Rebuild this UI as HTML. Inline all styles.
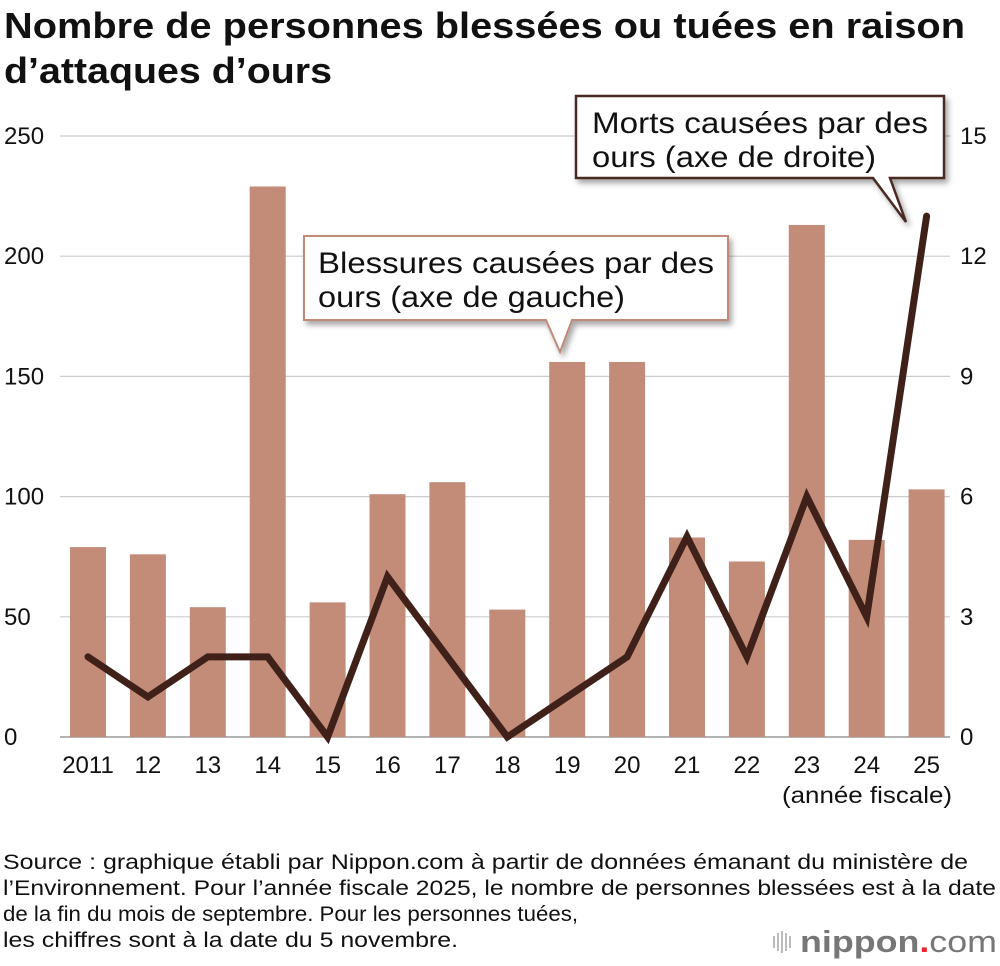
<!DOCTYPE html>
<html><head><meta charset="utf-8"><style>
body{margin:0;background:#fff;}
svg{display:block;font-family:"Liberation Sans",Arial,sans-serif;}
</style></head><body>
<svg width="1000" height="966" viewBox="0 0 1000 966">
<defs><filter id="sh" x="-10%" y="-10%" width="130%" height="140%"><feDropShadow dx="3" dy="4" stdDeviation="3" flood-color="#000" flood-opacity="0.35"/></filter></defs>
<text x="4" y="38" font-size="36" font-weight="bold" fill="#111" textLength="961" lengthAdjust="spacingAndGlyphs">Nombre de personnes blessées ou tuées en raison</text>
<text x="4" y="83" font-size="36" font-weight="bold" fill="#111" textLength="328" lengthAdjust="spacingAndGlyphs">d’attaques d’ours</text>
<g id="grid"></g><g id="bars"></g><g id="line"></g><g id="labels"></g>
<g filter="url(#sh)">
<path d="M576,96 H944 V178 H890 L906,222 L873,178 H576 Z" fill="#fff" stroke="#4a2a20" stroke-width="2.5"/>
</g>
<text x="592" y="133" font-size="30" fill="#111" textLength="336" lengthAdjust="spacingAndGlyphs">Morts causées par des</text>
<text x="592" y="167" font-size="30" fill="#111" textLength="284" lengthAdjust="spacingAndGlyphs">ours (axe de droite)</text>
<g filter="url(#sh)">
<path d="M304,236 H728 V320 H572 L560,352 L546,320 H304 Z" fill="#fff" stroke="#c08a78" stroke-width="2"/>
</g>
<text x="318" y="273" font-size="30" fill="#111" textLength="396" lengthAdjust="spacingAndGlyphs">Blessures causées par des</text>
<text x="318" y="307" font-size="30" fill="#111" textLength="307" lengthAdjust="spacingAndGlyphs">ours (axe de gauche)</text>
<text x="782" y="803" font-size="23" fill="#111" textLength="170" lengthAdjust="spacingAndGlyphs">(année fiscale)</text>
<g font-size="21" fill="#111">
<text x="3" y="869" textLength="965" lengthAdjust="spacingAndGlyphs">Source : graphique établi par Nippon.com à partir de données émanant du ministère de</text>
<text x="3" y="895" textLength="993" lengthAdjust="spacingAndGlyphs">l’Environnement. Pour l’année fiscale 2025, le nombre de personnes blessées est à la date</text>
<text x="3" y="921" textLength="575" lengthAdjust="spacingAndGlyphs">de la fin du mois de septembre. Pour les personnes tuées,</text>
<text x="3" y="947" textLength="455" lengthAdjust="spacingAndGlyphs">les chiffres sont à la date du 5 novembre.</text>
</g>
<g>
<g fill="#bbb"><rect x="773" y="936" width="2" height="12"/><rect x="777" y="933" width="2" height="18"/><rect x="781" y="931" width="2" height="22"/><rect x="785" y="933" width="2" height="18"/><rect x="789" y="936" width="2" height="12"/></g>
<text x="800" y="952" font-size="31" font-weight="bold" fill="#777" textLength="197" lengthAdjust="spacingAndGlyphs">nippon<tspan fill="#e8262b">.</tspan><tspan font-weight="normal">com</tspan></text>
</g>
</svg>
<script>
const categories=["2011","12","13","14","15","16","17","18","19","20","21","22","23","24","25"];
const injuries=[79,76,54,229,56,101,106,53,156,156,83,73,213,82,103];
const deaths=[2,1,2,2,0,4,2,0,1,2,5,2,6,3,13];
const leftTicks=[0,50,100,150,200,250];
const rightTicks=[0,3,6,9,12,15];
const NS="http://www.w3.org/2000/svg";
const y0=737,yTop=136,x0=88,step=59.9;
const yL=v=>y0-(v/250)*(y0-yTop);
const yR=v=>y0-(v/15)*(y0-yTop);
const xC=i=>x0+i*step;
function mk(parent,tag,attrs){const e=document.createElementNS(NS,tag);for(const k in attrs)e.setAttribute(k,attrs[k]);document.getElementById(parent).appendChild(e);return e;}
leftTicks.forEach((t,i)=>{
 const l=mk("grid","line",{x1:60,x2:950,y1:yL(t),y2:yL(t),stroke:t===0?"#999":"#ccc","stroke-width":t===0?1.5:1.2});
 
 
 const a=mk("labels","text",{x:4,y:yL(t)+8,"font-size":24,fill:"#111"});a.textContent=t;
 
 
 const b=mk("labels","text",{x:960,y:yR(rightTicks[i])+8,"font-size":24,fill:"#111"});b.textContent=rightTicks[i];
 
 
});
categories.forEach((c,i)=>{
 const r=mk("bars","rect",{x:xC(i)-18,y:yL(injuries[i]),width:36,height:y0-yL(injuries[i]),fill:"#c28c78"});
 
 
 const t=mk("labels","text",{x:xC(i),y:773,"font-size":24,fill:"#111","text-anchor":"middle"});t.textContent=c;
 
 
});
const p=mk("line","polyline",{points:deaths.map((d,i)=>xC(i)+","+yR(d)).join(" "),fill:"none",stroke:"#40211a","stroke-width":7,"stroke-linejoin":"miter","stroke-linecap":"round"});


</script>
</body></html>
